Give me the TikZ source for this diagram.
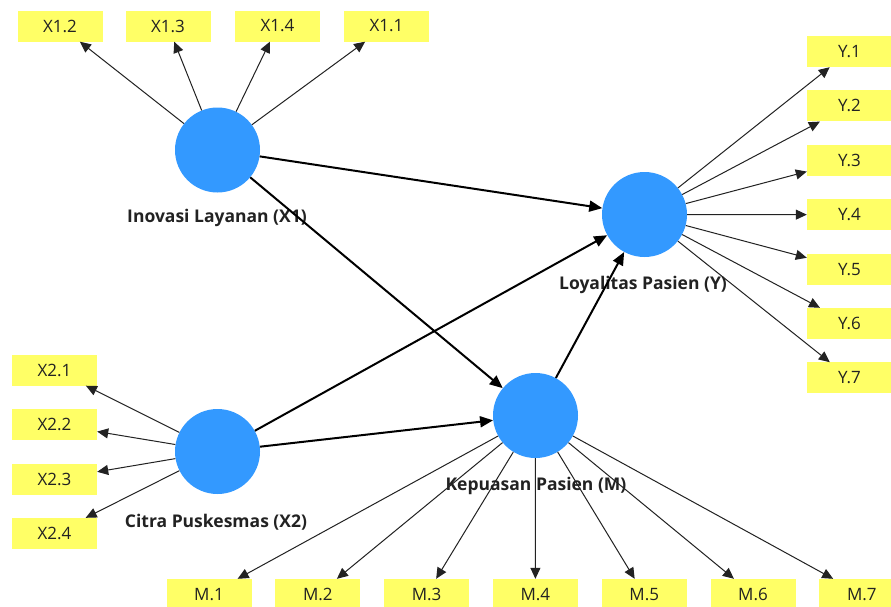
\documentclass[tikz,border=0pt]{standalone}
\usepackage{fontspec}
\setmainfont{Open Sans}
\usetikzlibrary{arrows.meta}
\definecolor{cyellow}{HTML}{FFFF66}
\definecolor{cblue}{HTML}{3399FF}
\definecolor{ctext}{HTML}{222222}
\tikzset{
  lv/.style={circle, fill=cblue, minimum size=85pt, inner sep=0pt},
  ind/.style={fill=cyellow, minimum width=85pt, minimum height=31pt, inner sep=0pt, text=ctext, font=\fontsize{17}{20}\selectfont},
  lvname/.style={font=\bfseries\fontsize{17.5}{21}\selectfont, text=ctext},
  load/.style={-{Triangle[length=11pt,width=10pt]}, line width=1pt, draw=ctext},
  effect/.style={-{Triangle[length=13pt,width=11pt]}, line width=2pt, draw=black},
}

\begin{document}
\begin{tikzpicture}[x=1pt, y=-1pt]
  \clip (0,0) rectangle (891,606);
  \fill[white] (0,0) rectangle (891,606);
  % latent variables
  \node[lv] (x1) at (217.5,150) {};
  \node[lv] (x2) at (217.5,451.5) {};
  \node[lv] (y) at (644.5,214.5) {};
  \node[lv] (m) at (535.5,415.5) {};
  \node[lvname] (x1name) at (217,218) {Inovasi Layanan (X1)};
  \node[lvname] (x2name) at (216,522) {Citra Puskesmas (X2)};
  \node[lvname] (yname) at (643,285) {Loyalitas Pasien (Y)};
  \node[lvname] (mname) at (536,486) {Kepuasan Pasien (M)};
  % indicators
  \foreach \n/\x in {2/60, 3/168, 4/277.5, 1/386.5}
    \node[ind] (x1\n) at (\x,26) {X1.\n};
  \foreach \i in {1,...,4}
    \node[ind] (x2\i) at (54.5,{370+54.5*(\i-1)}) {X2.\i};
  \foreach \i in {1,...,7}
    \node[ind] (y\i) at (849.5,{51.5+54.4*(\i-1)}) {Y.\i};
  \foreach \i in {1,...,7}
    \node[ind] (m\i) at ({209+108.8*(\i-1)},594.5) {M.\i};
  % loadings
  \foreach \i in {1,...,4} \draw[load] (x1) -- (x1\i);
  \foreach \i in {1,...,4} \draw[load] (x2) -- (x2\i);
  \foreach \i in {1,...,7} \draw[load] (y) -- (y\i);
  \foreach \i in {1,...,7} \draw[load] (m) -- (m\i);
  % structural paths
  \draw[effect] (x1) -- (y);
  \draw[effect] (x1) -- (m);
  \draw[effect] (x2) -- (y);
  \draw[effect] (x2) -- (m);
  \draw[effect] (m) -- (y);
\end{tikzpicture}
\end{document}
